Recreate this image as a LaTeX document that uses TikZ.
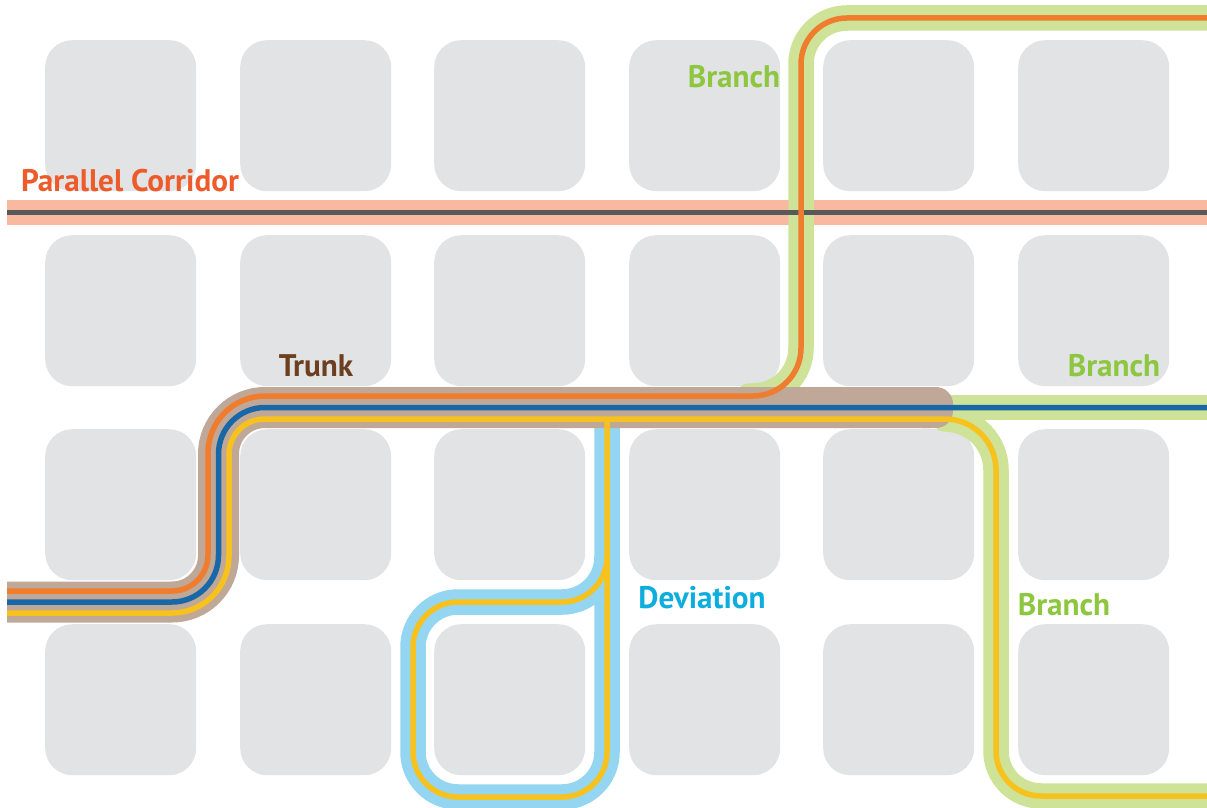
\documentclass[tikz,border=0pt]{standalone}
\usepackage{fontspec}
\setmainfont{PT Sans}
\definecolor{blockc}{HTML}{E1E3E4}
\definecolor{salmon}{HTML}{F9B8A0}
\definecolor{darkl}{HTML}{58595B}
\definecolor{greenb}{HTML}{CEE298}
\definecolor{skyb}{HTML}{94D6F1}
\definecolor{trunkc}{HTML}{BFA898}
\definecolor{orangel}{HTML}{F07D2E}
\definecolor{bluel}{HTML}{1868A8}
\definecolor{yellowl}{HTML}{F7C11E}
\definecolor{tcorr}{HTML}{EE5B2B}
\definecolor{ttrunk}{HTML}{6B3F1F}
\definecolor{tbranch}{HTML}{8DC63F}
\definecolor{tdev}{HTML}{0DADDE}
\tikzset{
  blockbox/.style={fill=blockc,rounded corners=27pt,minimum width=151pt,minimum height=151pt,inner sep=0pt,anchor=north west},
  band/.style={line width=25.5pt},
  wideband/.style={line width=41pt,trunkc,draw=trunkc},
  thin line/.style={line width=5.5pt},
  lbl/.style={font=\fontsize{31.2}{33}\selectfont\bfseries,inner sep=0pt}
}
\begin{document}
\begin{tikzpicture}[x=1pt,y=1pt,yscale=-1]
\useasboundingbox (0,0) rectangle (1207,808);
\clip (0,0) rectangle (1207,808);
% blocks
\foreach \cx/\px in {1/45,2/240,3/434,4/629,5/823,6/1018}{
  \foreach \cy/\py in {1/40,2/235,3/429,4/624}{
    \node[blockbox] (b\cx\cy) at (\px,\py) {};
  }
}
% parallel corridor band
\draw[band,salmon] (7,212.5) -- (1207,212.5);
% top branch band
\draw[band,greenb,line cap=round] (749,396) -- (753,396) arc[start angle=90,end angle=0,radius=48] -- (801,64) arc[start angle=180,end angle=270,radius=46] -- (1220,18);
\draw[thin line,darkl] (7,212.5) -- (1207,212.5);
% right branch bands
\draw[band,greenb] (940,407.5) -- (1207,407.5);
\draw[band,greenb,line cap=round] (945,419) arc[start angle=-90,end angle=0,radius=51] -- (996,751) arc[start angle=180,end angle=90,radius=45] -- (1220,796);
% deviation band
\draw[band,skyb] (607,419) -- (607,752) arc[start angle=0,end angle=90,radius=45] -- (458,797) arc[start angle=90,end angle=180,radius=45] -- (413,647) arc[start angle=180,end angle=270,radius=45] -- (562,602) arc[start angle=90,end angle=0,radius=45];
% trunk
\draw[wideband] (7,602) -- (172,602) arc[start angle=90,end angle=0,radius=46.5] -- (218.5,454) arc[start angle=180,end angle=270,radius=46.5] -- (930,407.5);
\fill[trunkc,rounded corners=17pt] (905,387) rectangle (953,428);
% lines
\draw[thin line,orangel] (7,591) -- (172,591) arc[start angle=90,end angle=0,radius=36] -- (208,453) arc[start angle=180,end angle=270,radius=57] -- (753,396) arc[start angle=90,end angle=0,radius=48] -- (801,64) arc[start angle=180,end angle=270,radius=46] -- (1207,18);
\draw[thin line,bluel] (7,602) -- (172,602) arc[start angle=90,end angle=0,radius=46.5] -- (218.5,454) arc[start angle=180,end angle=270,radius=46.5] -- (1207,407.5);
\draw[thin line,yellowl] (7,613) -- (172,613) arc[start angle=90,end angle=0,radius=57] -- (229,454.5) arc[start angle=180,end angle=270,radius=35.5] -- (945,419) arc[start angle=-90,end angle=0,radius=51] -- (996,751) arc[start angle=180,end angle=90,radius=45] -- (1207,796);
\draw[thin line,yellowl] (607,419) -- (607,752) arc[start angle=0,end angle=90,radius=45] -- (458,797) arc[start angle=90,end angle=180,radius=45] -- (413,647) arc[start angle=180,end angle=270,radius=45] -- (562,602) arc[start angle=90,end angle=0,radius=45];
% labels
\node[lbl,text=tcorr] (lcorr) at (130,181) {Parallel Corridor};
\node[lbl,text=ttrunk] (ltrunk) at (316,366) {Trunk};
\node[lbl,text=tbranch] (lb1) at (734,77) {Branch};
\node[lbl,text=tbranch] (lb2) at (1114,366) {Branch};
\node[lbl,text=tbranch] (lb3) at (1064,605) {Branch};
\node[lbl,text=tdev] (ldev) at (702,598) {Deviation};
\end{tikzpicture}
\end{document}
